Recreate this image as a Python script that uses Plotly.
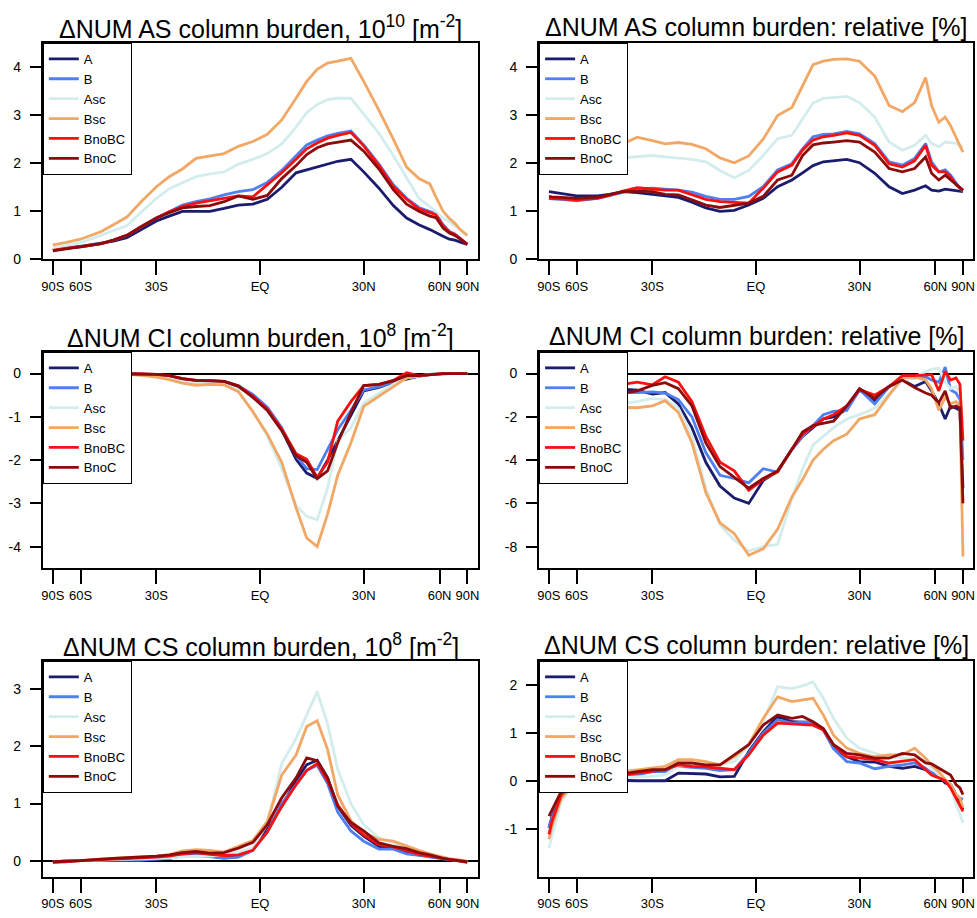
import numpy as np
import plotly.graph_objects as go

# ---------------- data ----------------
lat = [-88, -80, -70, -60, -50, -45, -40, -35, -30, -26, -22, -18, -14, -10, -6, -2,
       2, 6, 10, 13, 16, 19, 22, 26, 30, 35, 40, 45, 50, 55, 58, 62, 66, 70, 75, 80, 88]

series_names = ["A", "B", "Asc", "Bsc", "BnoBC", "BnoC"]
series_colors = ["#1c1c6e", "#4f80f2", "#d3eded", "#f2a765", "#fa1010", "#8e0b0b"]

tick_lats = [-90, -60, -30, 0, 30, 60, 90]
tick_text = ["90S", "60S", "30S", "EQ", "30N", "60N", "90N"]

# Panel 1: dNUM AS column burden, 1e10 m-2
as_abs_A = [0.20,0.21,0.24,0.27,0.33,0.38,0.45,0.62,0.80,0.90,1.00,1.00,1.00,1.06,1.13,1.15,1.25,1.50,1.80,1.86,1.92,1.99,2.04,2.08,1.82,1.48,1.12,0.86,0.72,0.62,0.55,0.48,0.42,0.40,0.36,0.33,0.31]
as_abs_B = [0.19,0.20,0.23,0.26,0.33,0.40,0.50,0.68,0.86,0.99,1.13,1.20,1.26,1.34,1.41,1.45,1.60,1.85,2.15,2.38,2.48,2.57,2.62,2.67,2.38,1.98,1.55,1.27,1.08,1.00,0.95,0.72,0.58,0.53,0.44,0.38,0.32]
as_abs_Asc = [0.24,0.25,0.28,0.35,0.50,0.60,0.70,0.98,1.27,1.47,1.60,1.72,1.78,1.82,1.98,2.08,2.20,2.40,2.75,3.05,3.22,3.32,3.35,3.35,3.02,2.62,2.16,1.68,1.27,1.10,1.00,0.86,0.78,0.69,0.60,0.55,0.50]
as_abs_Bsc = [0.30,0.31,0.35,0.42,0.58,0.72,0.88,1.20,1.51,1.72,1.88,2.10,2.15,2.20,2.35,2.45,2.60,2.90,3.35,3.70,3.95,4.08,4.12,4.18,3.70,3.10,2.50,1.92,1.68,1.57,1.30,1.00,0.85,0.75,0.62,0.56,0.50]
as_abs_BnoBC = [0.19,0.20,0.23,0.26,0.33,0.40,0.50,0.68,0.86,0.99,1.10,1.17,1.22,1.28,1.32,1.30,1.55,1.80,2.08,2.30,2.42,2.52,2.58,2.64,2.36,1.95,1.52,1.25,1.05,0.98,0.93,0.70,0.57,0.52,0.43,0.37,0.32]
as_abs_BnoC = [0.18,0.19,0.22,0.26,0.33,0.40,0.50,0.68,0.86,0.97,1.07,1.10,1.12,1.20,1.32,1.25,1.33,1.68,1.95,2.18,2.32,2.40,2.44,2.48,2.25,1.88,1.45,1.15,1.00,0.90,0.87,0.65,0.55,0.50,0.42,0.36,0.31]

# Panel 2: dNUM AS column burden, relative %
as_rel_A = [1.41,1.40,1.37,1.32,1.32,1.35,1.41,1.39,1.35,1.32,1.29,1.19,1.07,1.00,1.02,1.13,1.27,1.51,1.65,1.80,1.95,2.03,2.05,2.08,2.01,1.79,1.51,1.37,1.44,1.53,1.44,1.42,1.46,1.44,1.43,1.42,1.41]
as_rel_B = [1.27,1.26,1.25,1.22,1.27,1.33,1.40,1.46,1.48,1.46,1.44,1.40,1.31,1.25,1.25,1.31,1.51,1.86,1.99,2.30,2.55,2.60,2.61,2.66,2.61,2.41,2.03,1.96,2.10,2.41,2.03,1.82,1.86,1.75,1.58,1.48,1.42]
as_rel_Asc = [2.05,2.04,2.00,1.96,2.03,2.08,2.11,2.13,2.16,2.13,2.11,2.08,2.03,1.85,1.70,1.85,2.16,2.51,2.58,2.92,3.25,3.35,3.37,3.39,3.26,2.96,2.44,2.27,2.37,2.58,2.41,2.34,2.44,2.43,2.41,2.37,2.34]
as_rel_Bsc = [2.08,2.07,2.04,1.98,2.05,2.20,2.40,2.54,2.47,2.40,2.43,2.39,2.30,2.11,2.01,2.15,2.50,2.99,3.16,3.60,4.05,4.12,4.16,4.17,4.12,3.81,3.20,3.07,3.26,3.78,3.20,2.85,2.96,2.78,2.54,2.35,2.23]
as_rel_BnoBC = [1.27,1.27,1.26,1.24,1.27,1.33,1.42,1.49,1.46,1.44,1.44,1.34,1.25,1.20,1.19,1.17,1.48,1.82,1.96,2.27,2.48,2.55,2.58,2.63,2.58,2.37,1.99,1.92,2.05,2.37,1.96,1.82,1.82,1.72,1.55,1.48,1.44]
as_rel_BnoC = [1.31,1.30,1.29,1.27,1.29,1.35,1.41,1.42,1.41,1.35,1.34,1.24,1.13,1.08,1.13,1.17,1.31,1.65,1.75,2.16,2.38,2.42,2.44,2.47,2.44,2.23,1.89,1.82,1.89,2.13,1.79,1.65,1.75,1.65,1.55,1.48,1.44]

# Panel 3: dNUM CI column burden, 1e8 m-2
ci_abs_A = [0,0,0,0,0,0,-0.01,-0.02,-0.04,-0.08,-0.14,-0.17,-0.17,-0.19,-0.30,-0.52,-0.83,-1.30,-1.98,-2.30,-2.42,-2.00,-1.55,-0.95,-0.40,-0.32,-0.20,-0.13,-0.06,-0.02,-0.01,0,0,0,0,0,0]
ci_abs_B = [0,0,0,0,0,0,-0.01,-0.02,-0.04,-0.09,-0.15,-0.17,-0.17,-0.18,-0.28,-0.48,-0.78,-1.25,-1.90,-2.20,-2.22,-1.75,-1.30,-0.85,-0.38,-0.30,-0.20,-0.10,-0.06,-0.02,-0.01,0,0,0,0,0,0]
ci_abs_Asc = [0,0,0,0,0,0,-0.02,-0.03,-0.06,-0.11,-0.18,-0.23,-0.23,-0.24,-0.40,-0.88,-1.44,-2.20,-3.05,-3.30,-3.38,-2.65,-1.55,-1.25,-0.68,-0.45,-0.25,-0.10,-0.05,-0.02,-0.01,0,0,0,0,0,0]
ci_abs_Bsc = [0,0,0,0,0,0,-0.02,-0.04,-0.08,-0.14,-0.22,-0.27,-0.25,-0.26,-0.42,-0.88,-1.40,-2.05,-3.10,-3.80,-4.00,-3.25,-2.35,-1.60,-0.76,-0.53,-0.30,-0.10,-0.05,-0.02,-0.01,0,0,0,0,0,0]
ci_abs_BnoBC = [0,0,0,0,0,0,-0.01,-0.01,-0.02,-0.05,-0.12,-0.16,-0.16,-0.18,-0.28,-0.52,-0.82,-1.28,-1.85,-1.98,-2.40,-2.05,-1.10,-0.65,-0.28,-0.25,-0.16,0.02,-0.05,-0.02,-0.01,0,0,0,0,0,0]
ci_abs_BnoC = [0,0,0,0,0,0,-0.01,-0.01,-0.02,-0.05,-0.12,-0.16,-0.17,-0.18,-0.29,-0.55,-0.85,-1.32,-1.90,-2.05,-2.43,-2.25,-1.60,-0.90,-0.28,-0.25,-0.17,-0.05,-0.05,-0.02,-0.01,0,0,0,0,0,0]

# Panel 4: dNUM CI column burden, relative %
ci_rel_A = [-1.00,-1.00,-0.90,-0.80,-0.80,-0.75,-0.72,-0.77,-0.95,-0.88,-1.40,-2.50,-4.10,-5.20,-5.75,-6.00,-4.95,-4.50,-3.50,-2.90,-2.50,-2.10,-2.00,-1.65,-0.75,-1.25,-0.60,-0.30,-0.60,-0.37,-0.80,-1.40,-2.10,-1.50,-1.60,-1.70,-5.30]
ci_rel_B = [-1.00,-1.00,-0.95,-0.90,-0.90,-0.88,-0.88,-0.88,-0.85,-0.90,-1.20,-2.00,-3.65,-4.70,-4.85,-5.05,-4.40,-4.55,-3.50,-2.90,-2.40,-1.90,-1.75,-1.70,-0.75,-1.40,-0.60,-0.20,-0.20,-0.15,-0.30,-0.40,0.30,-0.75,-0.90,-1.20,-4.00]
ci_rel_Asc = [-4.20,-3.40,-2.40,-1.80,-1.50,-1.40,-1.38,-1.30,-1.15,-1.20,-1.60,-2.90,-5.30,-7.00,-7.70,-8.20,-8.00,-7.90,-5.80,-4.40,-3.30,-2.90,-2.50,-2.10,-1.90,-1.60,-0.95,-0.35,-0.15,0.10,0.20,0.24,-0.40,-0.70,-0.60,-0.90,-2.30]
ci_rel_Bsc = [-1.60,-1.60,-1.60,-1.60,-1.55,-1.55,-1.58,-1.58,-1.50,-1.25,-1.80,-3.20,-5.50,-6.90,-7.40,-8.40,-8.10,-7.20,-5.70,-4.90,-4.00,-3.50,-3.10,-2.80,-2.10,-1.90,-1.00,-0.20,-0.15,-0.30,-0.70,-1.70,-1.10,-1.40,-1.30,-1.50,-8.46]
ci_rel_BnoBC = [-0.80,-0.80,-0.70,-0.60,-0.60,-0.55,-0.50,-0.40,-0.52,-0.15,-0.40,-1.30,-2.90,-4.10,-4.50,-5.40,-4.90,-4.55,-3.50,-2.80,-2.45,-2.10,-1.90,-1.50,-0.75,-1.00,-0.60,-0.10,-0.10,-0.05,-0.05,-0.80,0.10,-0.30,-0.20,-0.50,-3.10]
ci_rel_BnoC = [-1.00,-1.00,-1.00,-1.00,-0.95,-0.92,-0.90,-0.80,-0.55,-0.42,-0.70,-1.50,-3.20,-4.30,-4.80,-5.30,-4.85,-4.50,-3.50,-2.70,-2.40,-2.30,-2.20,-1.50,-0.70,-1.15,-0.60,-0.30,-0.65,-0.90,-1.00,-1.35,-0.80,-1.60,-1.50,-1.60,-6.00]

# Panel 5: dNUM CS column burden, 1e8 m-2
cs_abs_A = [-0.02,-0.02,-0.01,0.00,0.01,0.01,0.01,0.01,0.02,0.04,0.09,0.10,0.08,0.05,0.07,0.20,0.55,0.95,1.41,1.68,1.76,1.45,0.95,0.62,0.43,0.25,0.21,0.14,0.10,0.08,0.06,0.04,0.02,0.01,0.00,-0.01,-0.02]
cs_abs_B = [-0.02,-0.02,-0.01,0.00,0.01,0.01,0.01,0.01,0.02,0.04,0.08,0.09,0.07,0.04,0.06,0.18,0.50,1.00,1.33,1.58,1.67,1.35,0.85,0.52,0.34,0.20,0.20,0.12,0.09,0.07,0.05,0.03,0.02,0.01,0.00,-0.01,-0.02]
cs_abs_Asc = [-0.02,-0.02,-0.01,0.00,0.01,0.01,0.02,0.03,0.04,0.05,0.07,0.08,0.08,0.10,0.15,0.22,0.65,1.70,2.14,2.55,2.96,2.40,1.60,1.00,0.63,0.40,0.31,0.22,0.15,0.10,0.08,0.05,0.03,0.02,0.01,0.00,-0.01]
cs_abs_Bsc = [-0.03,-0.03,-0.01,0.00,0.03,0.04,0.05,0.07,0.08,0.10,0.17,0.19,0.18,0.15,0.25,0.35,0.69,1.50,1.85,2.35,2.45,1.95,1.15,0.70,0.49,0.37,0.34,0.25,0.18,0.12,0.09,0.05,0.03,0.02,0.01,0.00,-0.03]
cs_abs_BnoBC = [-0.03,-0.03,-0.02,0.00,0.02,0.03,0.04,0.05,0.06,0.08,0.12,0.14,0.11,0.09,0.10,0.18,0.50,0.95,1.33,1.58,1.70,1.40,0.98,0.65,0.45,0.28,0.24,0.18,0.11,0.08,0.06,0.04,0.02,0.01,0.00,-0.02,-0.03]
cs_abs_BnoC = [-0.02,-0.02,-0.01,0.00,0.03,0.04,0.05,0.06,0.08,0.10,0.14,0.16,0.13,0.14,0.22,0.32,0.63,1.10,1.45,1.80,1.75,1.45,0.95,0.67,0.52,0.31,0.25,0.21,0.14,0.10,0.07,0.04,0.02,0.01,0.00,-0.01,-0.02]

# Panel 6: dNUM CS column burden, relative %
cs_rel_A = [-0.98,-0.75,-0.29,0.00,0.02,0.01,0.00,0.00,0.00,0.00,0.16,0.15,0.14,0.08,0.09,0.61,1.02,1.34,1.23,1.22,1.22,1.06,0.68,0.50,0.40,0.39,0.30,0.26,0.30,0.23,0.16,0.09,-0.05,-0.08,-0.29,-0.43,-0.60]
cs_rel_B = [-0.98,-0.78,-0.29,0.00,0.04,0.06,0.09,0.12,0.19,0.19,0.30,0.28,0.26,0.21,0.23,0.58,0.99,1.27,1.20,1.22,1.22,1.06,0.67,0.40,0.37,0.25,0.30,0.33,0.37,0.26,0.16,0.09,0.00,-0.08,-0.29,-0.36,-0.39]
cs_rel_Asc = [-1.40,-1.15,-0.43,0.00,0.03,0.04,0.06,0.08,0.09,0.12,0.30,0.33,0.30,0.33,0.40,0.75,1.23,1.96,1.92,1.98,2.06,1.72,1.30,0.89,0.68,0.57,0.50,0.47,0.47,0.40,0.26,0.12,0.00,-0.08,-0.50,-0.70,-0.88]
cs_rel_Bsc = [-1.22,-0.95,-0.36,0.00,0.12,0.15,0.19,0.22,0.26,0.30,0.44,0.44,0.40,0.33,0.50,0.75,1.30,1.75,1.65,1.68,1.72,1.37,0.95,0.68,0.57,0.50,0.54,0.54,0.68,0.47,0.33,0.19,0.03,-0.08,-0.29,-0.36,-0.57]
cs_rel_BnoBC = [-1.12,-0.85,-0.29,0.00,0.05,0.08,0.12,0.15,0.19,0.23,0.33,0.30,0.29,0.26,0.23,0.54,0.95,1.20,1.18,1.16,1.16,1.06,0.75,0.50,0.47,0.44,0.37,0.40,0.44,0.23,0.12,0.06,0.00,-0.15,-0.36,-0.50,-0.64]
cs_rel_BnoC = [-0.74,-0.62,-0.22,0.00,0.07,0.10,0.15,0.19,0.23,0.23,0.37,0.37,0.33,0.33,0.54,0.75,1.16,1.37,1.30,1.34,1.23,1.09,0.75,0.57,0.54,0.47,0.47,0.57,0.54,0.37,0.35,0.26,0.19,0.12,-0.08,-0.15,-0.29]

panel_titles = [
    "ΔNUM AS column burden, 10<sup>10</sup> [m<sup>-2</sup>]",
    "ΔNUM AS column burden: relative [%]",
    "ΔNUM CI column burden, 10<sup>8</sup> [m<sup>-2</sup>]",
    "ΔNUM CI column burden: relative [%]",
    "ΔNUM CS column burden, 10<sup>8</sup> [m<sup>-2</sup>]",
    "ΔNUM CS column burden: relative [%]",
]
panel_data = [
    [as_abs_A, as_abs_B, as_abs_Asc, as_abs_Bsc, as_abs_BnoBC, as_abs_BnoC],
    [as_rel_A, as_rel_B, as_rel_Asc, as_rel_Bsc, as_rel_BnoBC, as_rel_BnoC],
    [ci_abs_A, ci_abs_B, ci_abs_Asc, ci_abs_Bsc, ci_abs_BnoBC, ci_abs_BnoC],
    [ci_rel_A, ci_rel_B, ci_rel_Asc, ci_rel_Bsc, ci_rel_BnoBC, ci_rel_BnoC],
    [cs_abs_A, cs_abs_B, cs_abs_Asc, cs_abs_Bsc, cs_abs_BnoBC, cs_abs_BnoC],
    [cs_rel_A, cs_rel_B, cs_rel_Asc, cs_rel_Bsc, cs_rel_BnoBC, cs_rel_BnoC],
]
y_ranges = [[0, 4.5], [0, 4.5], [-4.5, 0.5], [-9, 1], [-0.28, 3.5], [-2, 2.5]]
y_ticks = [[0, 1, 2, 3, 4], [0, 1, 2, 3, 4], [-4, -3, -2, -1, 0],
           [-8, -6, -4, -2, 0], [0, 1, 2, 3], [-1, 0, 1, 2]]
show_zero = [False, False, True, True, True, True]

# ---------------- layout geometry ----------------
W, H = 977, 918
FONT = "Liberation Sans, Arial, Helvetica, sans-serif"
col_px = [(41.0, 478.3), (539.3, 975.0)]
row_px = [(43.3, 261.7), (355.0, 573.3), (666.7, 884.3)]
x_ranges = [[-1.048, 1.053], [-1.047, 1.048]]

x_sin = np.sin(np.radians(lat))
tick_sin = np.sin(np.radians(tick_lats))

fig = go.Figure()
layout = dict(width=W, height=H, margin=dict(l=0, r=0, t=0, b=0),
              paper_bgcolor="white", plot_bgcolor="white",
              font=dict(family=FONT, color="black"), annotations=[])

for p in range(6):
    r, c = divmod(p, 2)
    n = "" if p == 0 else str(p + 1)
    leg = "legend" + n
    for s, name in enumerate(series_names):
        fig.add_trace(go.Scatter(
            x=x_sin, y=panel_data[p][s], mode="lines", name=name,
            line=dict(color=series_colors[s], width=2.8),
            xaxis="x" + n, yaxis="y" + n, legend=leg, showlegend=True,
            hoverinfo="skip"))
    xd = [col_px[c][0] / W, col_px[c][1] / W]
    yd = [1 - row_px[r][1] / H, 1 - row_px[r][0] / H]
    layout["xaxis" + n] = dict(
        domain=xd, range=x_ranges[c], anchor="y" + n,
        tickmode="array", tickvals=tick_sin, ticktext=tick_text,
        ticks="outside", ticklen=14, tickwidth=2, tickcolor="black",
        showline=True, linecolor="black", linewidth=2, mirror=True,
        showgrid=False, zeroline=False, tickfont=dict(size=13, family=FONT))
    layout["yaxis" + n] = dict(
        domain=yd, range=y_ranges[p], anchor="x" + n,
        tickmode="array", tickvals=y_ticks[p],
        ticktext=[str(v) for v in y_ticks[p]],
        ticks="outside", ticklen=11, tickwidth=2, tickcolor="black",
        showline=True, linecolor="black", linewidth=2, mirror=True,
        showgrid=False, zeroline=show_zero[p], zerolinecolor="black",
        zerolinewidth=2, tickfont=dict(size=14, family=FONT),
        ticklabelstandoff=6)
    layout[leg] = dict(
        x=xd[0], y=yd[1], xanchor="left", yanchor="top",
        bgcolor="white", bordercolor="black", borderwidth=1,
        font=dict(size=13, family=FONT, color="black"),
        itemwidth=30, tracegroupgap=0)
    layout["annotations"].append(dict(
        text=panel_titles[p], xref="paper", yref="paper",
        x=(xd[0] + xd[1]) / 2, y=1 - (row_px[r][0] - 16) / H,
        xanchor="center", yanchor="middle", showarrow=False,
        font=dict(size=25, family=FONT, color="black")))

fig.update_layout(**layout)
fig.write_html("out.html",
               config={"displayModeBar": False, "staticPlot": False},
               post_script="document.body.style.margin='0px';"
                           "document.body.style.overflow='hidden';")
